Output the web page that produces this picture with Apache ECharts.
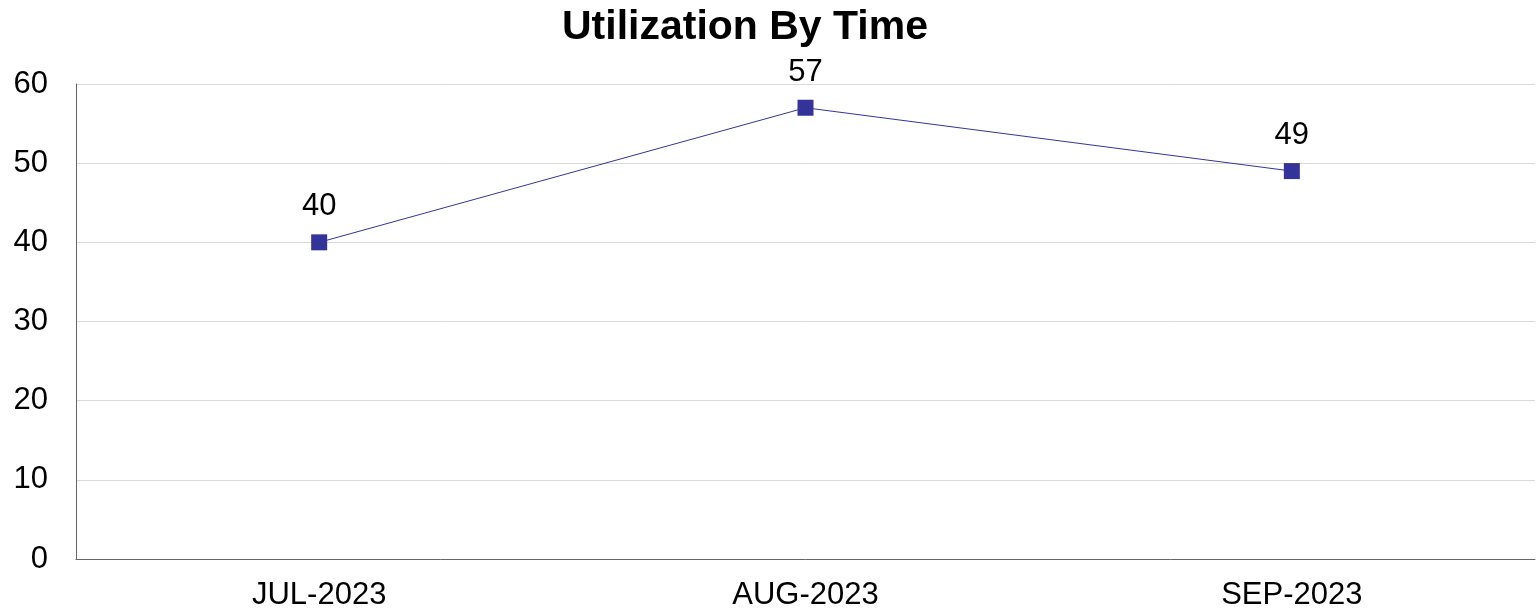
<!DOCTYPE html>
<html>
<head>
<meta charset="utf-8">
<title>Utilization By Time</title>
<script src="https://cdn.jsdelivr.net/npm/echarts@6/dist/echarts.min.js"></script>
<style>
  html, body { margin: 0; padding: 0; background: #fff; }
  #chart { width: 1536px; height: 611px; }
</style>
</head>
<body>
<div id="chart"></div>
<script>
const months = ['JUL-2023', 'AUG-2023', 'SEP-2023'];
const utilization = [40, 57, 49];

const fontFamily = 'Arial, "Liberation Sans", sans-serif';
const chart = echarts.init(document.getElementById('chart'));

chart.setOption({
  animation: false,
  title: {
    text: 'Utilization By Time',
    left: 562,
    top: 7,
    padding: 0,
    textStyle: {
      fontFamily,
      fontSize: 41,
      fontWeight: 'bold',
      color: '#000',
    },
  },
  grid: {
    left: 76,
    right: 1,
    top: 84,
    bottom: 52,
    containLabel: false,
  },
  xAxis: {
    type: 'category',
    data: months,
    boundaryGap: true,
    axisLine: { lineStyle: { color: '#666', width: 1 } },
    axisTick: { show: false },
    axisLabel: {
      margin: 21,
      fontFamily,
      fontSize: 31,
      color: '#000',
    },
  },
  yAxis: {
    type: 'value',
    min: 0,
    max: 60,
    interval: 10,
    axisLine: { show: true, lineStyle: { color: '#666', width: 1 } },
    axisTick: { show: false },
    splitLine: { lineStyle: { color: '#d9d9d9', width: 1 } },
    axisLabel: {
      margin: 28,
      fontFamily,
      fontSize: 31,
      color: '#000',
      padding: [4, 0, 0, 0],
    },
  },
  series: [
    {
      name: 'Utilization',
      type: 'line',
      data: utilization,
      symbol: 'rect',
      symbolSize: 16,
      lineStyle: { color: '#333399', width: 1 },
      itemStyle: { color: '#333399' },
      label: {
        show: true,
        position: 'top',
        distance: 12,
        fontFamily,
        fontSize: 31,
        color: '#000',
      },
    },
  ],
});
</script>
</body>
</html>
